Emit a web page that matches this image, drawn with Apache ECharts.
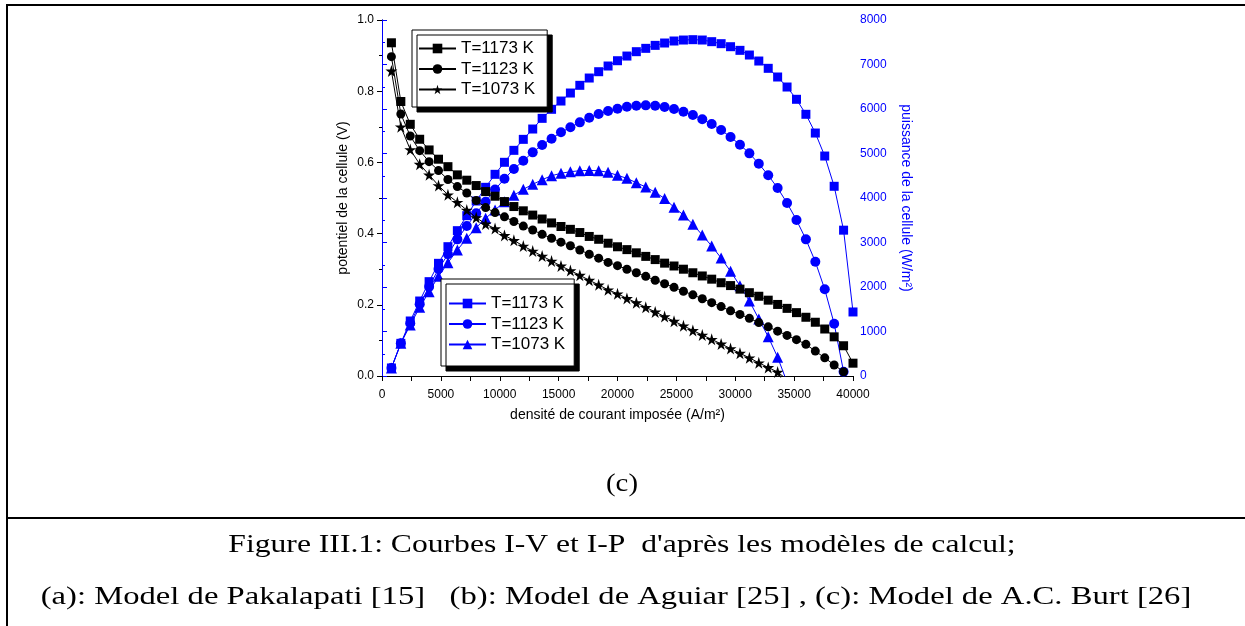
<!DOCTYPE html>
<html>
<head>
<meta charset="utf-8">
<script src="https://cdn.jsdelivr.net/npm/echarts@6/dist/echarts.min.js"></script>
<style>
html,body{margin:0;padding:0;background:#fff;}
#c{width:1245px;height:626px;}
</style>
</head>
<body>
<div id="c"></div>
<script>
// current density (A/m2)
const current = [800,1600,2400,3200,4000,4800,5600,6400,7200,8000,8800,9600,10400,11200,12000,12800,13600,14400,15200,16000,16800,17600,18400,19200,20000,20800,21600,22400,23200,24000,24800,25600,26400,27200,28000,28800,29600,30400,31200,32000,32800,33600,34400,35200,36000,36800,37600,38400,39200,40000];

// cell potential (V)
const V1173 = [0.936,0.771,0.707,0.665,0.635,0.609,0.588,0.565,0.550,0.535,0.518,0.505,0.490,0.476,0.464,0.452,0.441,0.430,0.420,0.412,0.403,0.392,0.384,0.373,
  0.363,0.355,0.346,0.336,0.327,0.317,0.309,0.300,0.290,0.281,0.272,0.262,0.254,0.244,0.234,0.224,0.213,0.201,0.190,0.178,0.165,0.151,0.132,0.110,0.085,0.036];
const V1123 = [0.897,0.736,0.674,0.633,0.602,0.577,0.552,0.532,0.514,0.493,0.473,0.459,0.447,0.434,0.421,0.410,0.398,0.387,0.376,0.366,0.354,0.342,0.331,0.319,
  0.310,0.300,0.290,0.280,0.269,0.259,0.249,0.238,0.228,0.217,0.206,0.195,0.183,0.173,0.162,0.150,0.138,0.126,0.114,0.102,0.089,0.070,0.051,0.031,0.012];
const V1073 = [0.857,0.700,0.636,0.595,0.565,0.535,0.509,0.488,0.466,0.445,0.427,0.414,0.395,0.381,0.365,0.351,0.337,0.323,0.309,0.296,0.283,0.269,0.256,0.242,
  0.231,0.218,0.206,0.193,0.180,0.167,0.154,0.141,0.128,0.115,0.103,0.090,0.077,0.064,0.051,0.037,0.024,0.011,-0.010];

// cell power (W/m2)
const P1173 = [180,734,1236,1685,2120,2532,2906,3266,3603,3932,4240,4532,4802,5071,5318,5550,5790,5993,6179,6359,6532,6696,6838,6966,
  7085,7190,7288,7363,7430,7483,7528,7550,7558,7550,7513,7468,7400,7318,7213,7078,6914,6719,6494,6218,5881,5460,4943,4263,3277,1439];
const P1123 = [180,734,1184,1611,2007,2404,2734,3071,3370,3655,3917,4190,4433,4651,4838,5026,5191,5333,5476,5588,5700,5805,5887,5955,
  6007,6052,6074,6082,6074,6044,6000,5939,5865,5768,5662,5528,5370,5198,5003,4770,4510,4224,3887,3505,3071,2569,1948,1176,97];
const P1073 = [180,734,1146,1543,1895,2240,2547,2831,3093,3333,3543,3730,3917,4060,4195,4307,4411,4501,4555,4591,4613,4620,4613,4576,
  4510,4442,4344,4247,4128,3990,3790,3618,3408,3168,2921,2651,2352,2029,1685,1281,883,420,-140];

const xTicks = [0,5000,10000,15000,20000,25000,30000,35000,40000];
const labels = {V1173:'T=1173 K', V1123:'T=1123 K', V1073:'T=1073 K', P1173:'T=1173 K', P1123:'T=1123 K', P1073:'T=1073 K'};

const STAR = 'path://M50,0 L61,35 L98,35 L68,57 L79,91 L50,70 L21,91 L32,57 L2,35 L39,35 Z';
const BLUE = '#0000ff';
const FONT = 'Liberation Sans';

function pairs(vals){ return vals.map((v,i)=>[current[i], v]); }

function mkSeries(name, vals, yIdx, color, symbol, size){
  return {
    name: name, type: 'line', xAxisIndex: 0, yAxisIndex: yIdx,
    data: pairs(vals), clip: true, smooth: false,
    symbol: symbol, symbolSize: size, showAllSymbol: true,
    lineStyle: {color: color, width: 1},
    itemStyle: {color: color},
    emphasis: {disabled: true},
    animation: false, z: yIdx === 0 ? 3 : 2
  };
}

const chart = echarts.init(document.getElementById('c'), null, {renderer:'canvas'});

const legendCommon = {
  orient: 'vertical', itemWidth: 37, itemHeight: 12, itemGap: 3.5,
  backgroundColor: '#fff', borderColor: '#000', borderWidth: 1,
  shadowColor: '#000', shadowBlur: 0, shadowOffsetX: 5, shadowOffsetY: 5,
  textStyle: {fontFamily: FONT, fontSize: 17, color: '#000', padding: [0,0,0,0]},
  formatter: function(n){ return labels[n]; },
  selectedMode: false
};

const plain = function(v){ return String(v); };

chart.setOption({
  backgroundColor: '#fff',
  animation: false,
  textStyle: {fontFamily: FONT},
  grid: {left: 382, right: 392, top: 20, bottom: 250, containLabel: false},
  xAxis: [{
    type: 'value', position: 'bottom', min: 0, max: 40000, interval: 5000,
    axisLine: {show: true, lineStyle: {color: '#000', width: 1}},
    axisTick: {show: true, inside: false, length: 5, lineStyle: {color: '#000'}},
    minorTick: {show: true, splitNumber: 2, length: 3, lineStyle: {color: '#000'}},
    axisLabel: {show: true, fontSize: 12, color: '#000', margin: 13, fontFamily: FONT,
      customValues: xTicks, formatter: plain},
    splitLine: {show: false},
    name: 'densité de courant imposée (A/m²)', nameLocation: 'middle', nameGap: 32,
    nameTextStyle: {fontSize: 14, color: '#000', fontFamily: FONT}
  },{
    type: 'value', position: 'top', min: 0, max: 40000, interval: 2500,
    axisLine: {show: true, lineStyle: {color: '#000', width: 1}},
    axisTick: {show: true, inside: true, length: 5, lineStyle: {color: '#000'}},
    axisLabel: {show: false}, splitLine: {show: false}
  }],
  yAxis: [{
    type: 'value', position: 'left', min: 0, max: 1, interval: 0.2,
    axisLine: {show: true, lineStyle: {color: '#000', width: 1}},
    axisTick: {show: true, inside: false, length: 5, lineStyle: {color: '#000'}},
    minorTick: {show: true, splitNumber: 2, length: 3, lineStyle: {color: '#000'}},
    axisLabel: {fontSize: 12, color: '#000', margin: 8, fontFamily: FONT,
      formatter: function(v){ return v.toFixed(1); }},
    splitLine: {show: false},
    name: 'potentiel de la cellule (V)', nameLocation: 'middle', nameGap: 32,
    nameTextStyle: {fontSize: 14, color: '#000', fontFamily: FONT}
  },{
    type: 'value', position: 'right', min: 0, max: 8000, interval: 1000,
    axisLine: {show: true, lineStyle: {color: BLUE, width: 1}},
    axisTick: {show: true, inside: false, length: 5, lineStyle: {color: BLUE}},
    minorTick: {show: true, splitNumber: 2, length: 3, lineStyle: {color: BLUE}},
    axisLabel: {fontSize: 12, color: BLUE, margin: 7, fontFamily: FONT, formatter: plain},
    splitLine: {show: false},
    name: 'puissance de la cellule (W/m²)', nameLocation: 'middle', nameGap: 46, nameRotate: -90,
    nameTextStyle: {fontSize: 14, color: BLUE, fontFamily: FONT}
  }],
  legend: [
    Object.assign({}, legendCommon, {left: 412, top: 30, padding: [10, 12, 9, 6], data: ['V1173','V1123','V1073']}),
    Object.assign({}, legendCommon, {left: 441, top: 279, padding: [16, 9, 13, 7], data: ['P1173','P1123','P1073']})
  ],
  series: [
    mkSeries('V1173', V1173, 0, '#000', 'rect', 9),
    mkSeries('V1123', V1123, 0, '#000', 'circle', 9),
    mkSeries('V1073', V1073, 0, '#000', STAR, 12),
    mkSeries('P1173', P1173, 1, BLUE, 'rect', 9),
    mkSeries('P1123', P1123, 1, BLUE, 'circle', 10),
    mkSeries('P1073', P1073, 1, BLUE, 'triangle', 11)
  ],
  graphic: [
    {type: 'line', shape: {x1: 6, y1: 5, x2: 1245, y2: 5}, style: {stroke: '#000', lineWidth: 2}},
    {type: 'line', shape: {x1: 7, y1: 4, x2: 7, y2: 626}, style: {stroke: '#000', lineWidth: 2}},
    {type: 'line', shape: {x1: 6, y1: 518, x2: 1245, y2: 518}, style: {stroke: '#000', lineWidth: 2}},
    {type: 'text', x: 622, y: 484, scaleX: 1.15, style: {text: '(c)', font: '25px "Liberation Serif"', fill: '#000', textAlign: 'center', textVerticalAlign: 'middle'}},
    {type: 'text', x: 622, y: 545, scaleX: 1.265, style: {text: "Figure III.1: Courbes I-V et I-P  d'après les modèles de calcul;", font: '25px "Liberation Serif"', fill: '#000', textAlign: 'center', textVerticalAlign: 'middle'}},
    {type: 'text', x: 616, y: 597, scaleX: 1.306, style: {text: '(a): Model de Pakalapati [15]   (b): Model de Aguiar [25] , (c): Model de A.C. Burt [26]', font: '25px "Liberation Serif"', fill: '#000', textAlign: 'center', textVerticalAlign: 'middle'}}
  ]
});
</script>
</body>
</html>
